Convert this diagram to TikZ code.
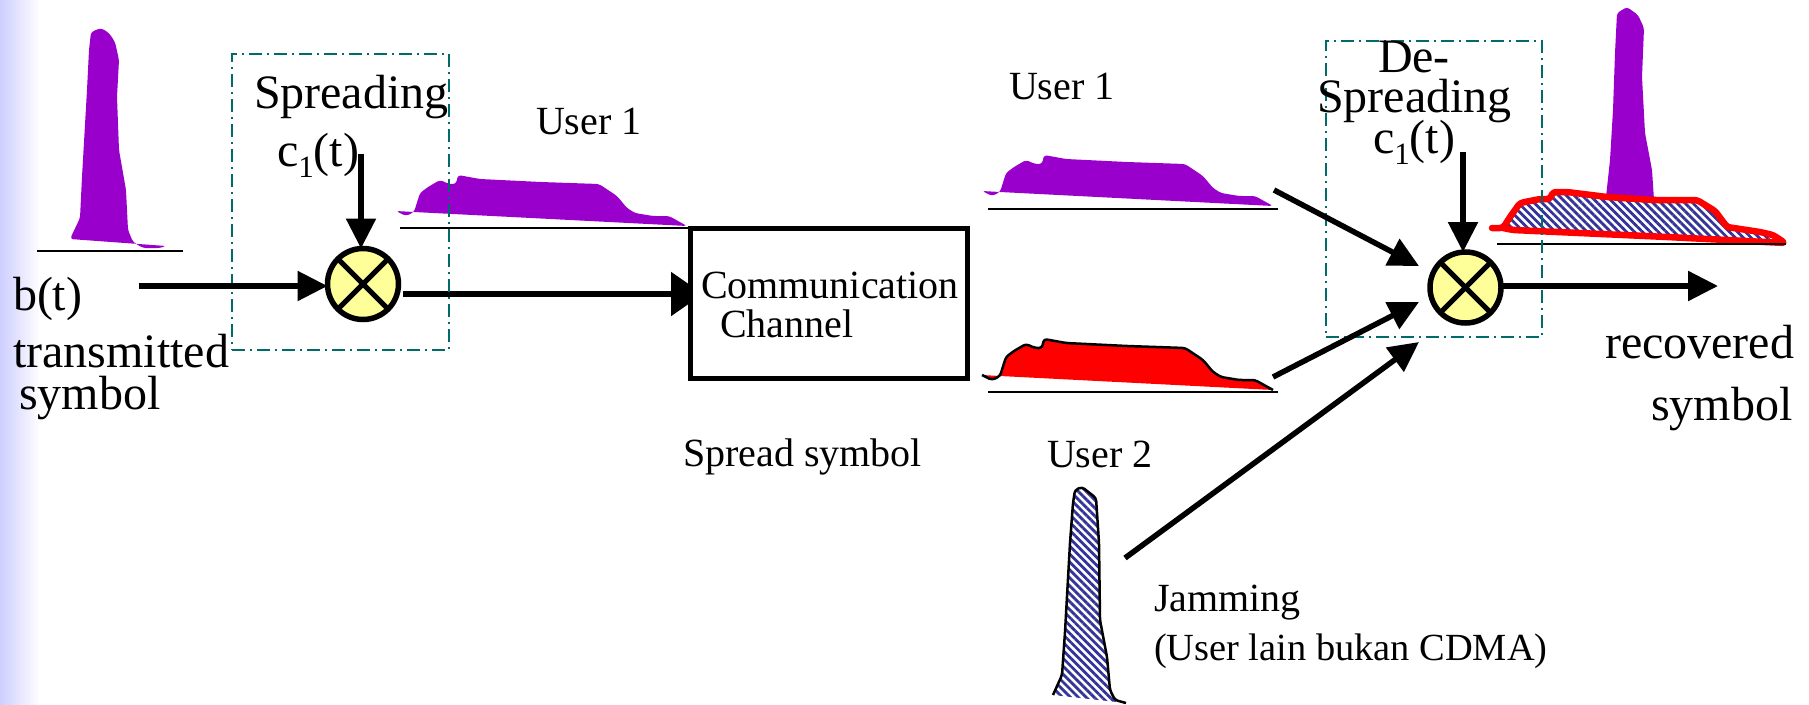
\documentclass[tikz,border=0pt]{standalone}
\usepackage{fontspec}
\setmainfont{Liberation Serif}
\usetikzlibrary{arrows.meta,patterns.meta}
\pgfdeclarelayer{back}
\pgfsetlayers{back,main}
\definecolor{sympurple}{HTML}{9900CC}
\definecolor{symred}{HTML}{FF0000}
\definecolor{tealbox}{HTML}{006B6B}
\definecolor{mixyellow}{HTML}{FFFF99}
\definecolor{hatchblue}{HTML}{333399}
\definecolor{edgelav}{HTML}{CECEFF}
\def\spreadtop{(396,211) -- (406,216) -- (414,212) -- (420,193) -- (428,187) -- (440,180) -- (449,184) -- (456,184) -- (458,175) -- (480,179) -- (541,182) -- (599,184) -- (617,196) -- (627,208) -- (635,213) -- (653,216) -- (669,216) -- (687,226)}
\tikzset{
  big/.style={anchor=base west,inner sep=0pt,outer sep=0pt,font=\fontsize{48}{48}\selectfont},
  mid/.style={anchor=base west,inner sep=0pt,outer sep=0pt,font=\fontsize{40}{40}\selectfont},
  flow/.style={line width=5.5pt,-{Triangle[length=30pt,width=29pt]}},
  flowcut/.style={line width=5.5pt,-{Triangle[length=32pt,width=43pt]}},
  baseln/.style={line width=2pt,black},
  tealrect/.style={draw=tealbox,line width=1.5pt,dash pattern=on 13pt off 5pt on 2pt off 5pt},
  mixer/.style={circle,draw=black,fill=mixyellow,line width=5.5pt,minimum size=71pt,inner sep=0pt,outer sep=0pt},
  crossln/.style={line width=5pt,black},
  softshape/.style={rounded corners=3pt},
  hatched/.style={preaction={fill=white},pattern={Lines[angle=-45,distance=5.6pt,line width=2.8pt]},pattern color=hatchblue},
}
\newcommand{\cone}{c\raisebox{-0.24em}{\fontsize{31}{31}\selectfont 1}(t)}
\begin{document}
\begin{tikzpicture}[x=1pt,y=-1pt]
\useasboundingbox (0,0) rectangle (1809,704);
\begin{pgfonlayer}{back}
\shade[left color=edgelav,right color=white] (0,0) rectangle (40,704);
\end{pgfonlayer}

% transmitted pulse
\fill[sympurple,softshape] (70,239) -- (80,218) -- (82,177) -- (87,90) -- (89,50) -- (91,32) -- (101,28) -- (109,33) -- (115,42) -- (119,60) -- (117,97) -- (119,150) -- (126,190) -- (128,230) -- (133,242) -- (143,248) -- (160,248) -- (166,246) -- cycle;
\draw[baseln] (37,251) -- (183,251);

% spread pulse, user 1
\fill[sympurple,softshape] \spreadtop -- (414,212) -- cycle;
\draw[baseln] (400,228) -- (690,228);

% received user 1
\begin{scope}[shift={(586,-20)}]
\fill[sympurple,softshape] \spreadtop -- (414,212) -- cycle;
\draw[baseln] (402,229) -- (692,229);
\end{scope}
% received user 2
\begin{scope}[shift={(586,164)}]
\fill[symred,softshape] \spreadtop -- (414,212) -- cycle;
\draw[line width=2.5pt,line join=round,softshape] \spreadtop;
\draw[baseln] (402,228) -- (692,228);
\end{scope}

% jamming pulse
\path[hatched,softshape] (1053,695) -- (1062,675) -- (1065,632) -- (1070,543) -- (1073,503) -- (1075,490) -- (1082,487) -- (1096,498) -- (1099,543) -- (1100,620) -- (1107,657) -- (1110,690) -- (1115,700) -- (1126,703) -- cycle;
\draw[line width=2.5pt,line join=round,softshape] (1053,695) -- (1062,675) -- (1065,632) -- (1070,543) -- (1073,503) -- (1075,490) -- (1082,487) -- (1096,498) -- (1099,543) -- (1100,620) -- (1107,657) -- (1110,690) -- (1115,700) -- (1126,703);

% recovered pulse
\fill[sympurple,softshape] (1606,197) -- (1610,160) -- (1613,110) -- (1615,53) -- (1617,13) -- (1627,7) -- (1638,15) -- (1644,28) -- (1642,77) -- (1645,133) -- (1652,170) -- (1654,200) -- cycle;
\path[hatched] (1503,228) -- (1510,217) -- (1520,203) -- (1540,199) -- (1550,199) -- (1553,192) -- (1567,192) -- (1607,197) -- (1653,200) -- (1697,200) -- (1715,211) -- (1727,227) -- (1760,232) -- (1773,235) -- (1785,243) -- (1667,237) -- (1513,230) -- cycle;
\draw[symred,line width=6.5pt,line join=round,line cap=round,softshape] (1492,228) -- (1503,228) -- (1510,217) -- (1520,203) -- (1540,199) -- (1550,199) -- (1553,192) -- (1567,192) -- (1607,197) -- (1653,200) -- (1697,200) -- (1715,211) -- (1727,227) -- (1760,232) -- (1773,235) -- (1785,243) -- (1667,237) -- (1513,230) -- (1503,228);
\draw[baseln] (1497,244) -- (1786,244);

% blocks
\node[mixer] (mixa) at (363,284) {};
\draw[crossln] (mixa.north west) -- (mixa.south east);
\draw[crossln] (mixa.north east) -- (mixa.south west);
\node[mixer] (mixb) at (1465.5,287.5) {};
\draw[crossln] (mixb.north west) -- (mixb.south east);
\draw[crossln] (mixb.north east) -- (mixb.south west);
\node[draw=black,fill=white,line width=5pt,minimum width=277pt,minimum height=150pt,inner sep=0pt,outer sep=0pt] (chan) at (828.5,303.5) {};

% dash-dot groups
\node[tealrect,minimum width=217pt,minimum height=296pt,inner sep=0pt,outer sep=0pt] (grpa) at (340.5,202) {};
\node[tealrect,minimum width=216pt,minimum height=296pt,inner sep=0pt,outer sep=0pt] (grpb) at (1434,189) {};

% free ends
\coordinate (bin) at (139,286);
\coordinate (ca) at (361,154);
\coordinate (mout) at (403,294);
\coordinate (cb) at (1463,152);
\coordinate (bout) at (1718,286);
\coordinate (ua) at (1274,190);
\coordinate (ub) at (1273,377);
\coordinate (jm) at (1125,558);
\coordinate (ta) at (1419,266);
\coordinate (tb) at (1419,302);
\coordinate (tc) at (1419,342);

% connectors
\draw[flow] (bin) -- (bin -| mixa.west);
\draw[flow] (ca) -- (ca |- mixa.north);
\begin{pgfonlayer}{back}
\draw[flowcut,shorten >=-13pt] (mout) -- (mout -| chan.west);
\end{pgfonlayer}
\draw[flow] (cb) -- (cb |- mixb.north);
\draw[flow] (bout -| mixb.east) -- (bout);
\draw[flow] (ua) -- (ta);
\draw[flow] (ub) -- (tb);
\draw[flow] (jm) -- (tc);

% labels
\node[big] (tb1) at (13,310) {b(t)};
\node[big] (tb2) at (13,367) {transmitted};
\node[big] (tb3) at (19,409) {symbol};
\node[big] (tb4) at (254,108) {Spreading};
\node[big] (tb5) at (277,166) {\cone};
\node[mid] (tm1) at (536,134) {User 1};
\node[mid] (tm2) at (1009,99) {User 1};
\node[mid] (tm3) at (701,298) {Communication};
\node[mid] (tm4) at (720,337) {Channel};
\node[mid] (tm5) at (683,466) {Spread symbol};
\node[mid] (tm6) at (1047,467) {User 2};
\node[mid] (tm7) at (1154,611) {Jamming};
\node[mid,font=\fontsize{38.4}{38}\selectfont] (tm8) at (1154,660) {(User lain bukan CDMA)};
\node[big] (td1) at (1378,72) {De-};
\node[big] (td2) at (1317,112) {Spreading};
\node[big] (td3) at (1373,153) {\cone};
\node[big] (td4) at (1605,358) {recovered};
\node[big] (td5) at (1651,420) {symbol};
\end{tikzpicture}
\end{document}
